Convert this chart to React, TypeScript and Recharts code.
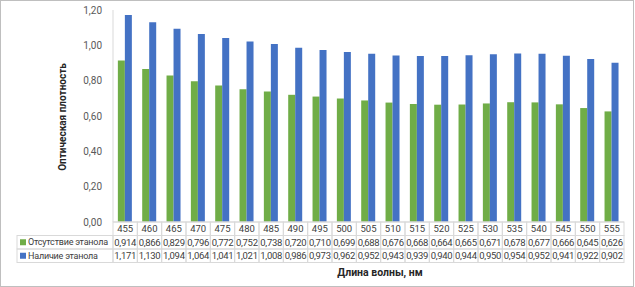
import React from 'react';
import { BarChart, Bar, XAxis, YAxis } from 'recharts';

// wavelengths, nm
const wavelengths = [
    '455', '460', '465', '470', '475', '480', '485', '490', '495', '500', '505',
    '510', '515', '520', '525', '530', '535', '540', '545', '550', '555',
];
const withoutEthanol = [
    0.914, 0.866, 0.829, 0.796, 0.772, 0.752, 0.738, 0.72, 0.71, 0.699, 0.688,
    0.676, 0.668, 0.664, 0.665, 0.671, 0.678, 0.677, 0.666, 0.645, 0.626,
];
const withEthanol = [
    1.171, 1.13, 1.094, 1.064, 1.041, 1.021, 1.008, 0.986, 0.973, 0.962, 0.952,
    0.943, 0.939, 0.94, 0.944, 0.95, 0.954, 0.952, 0.941, 0.922, 0.902,
];
const yTicks = [0, 0.2, 0.4, 0.6, 0.8, 1.0, 1.2];

const seriesNames = ['Отсутствие этанола', 'Наличие этанола'];
const GREEN = '#70AD47';
const BLUE = '#4472C4';

const data = wavelengths.map((wl, i) => ({
    wl,
    a: withoutEthanol[i],
    b: withEthanol[i],
}));

const W = 634;
const H = 287;
const LEFT = 113;
const RIGHT = 10;
const BAND = (W - LEFT - RIGHT) / wavelengths.length;
const ROW = 13.5;
const GRID = '#d9d9d9';
const TEXT = '#404040';
const FONT = 'Roboto, "Liberation Sans", sans-serif';

const fmt = (v: number, d: number) => v.toFixed(d).replace('.', ',');

// x axis tick = one column of the data table
const TableTick = (props: any) => {
    const { x, y, payload, index } = props;
    const i = wavelengths.indexOf(payload.value);
    const left = x - BAND / 2;
    const rows = [payload.value, fmt(withoutEthanol[i], 3), fmt(withEthanol[i], 3)];
    return (
        <g>
            {rows.map((r, k) => (
                <g key={k}>
                    <rect x={left} y={y + k * ROW} width={BAND} height={ROW} fill="none" stroke={GRID} strokeWidth={1} />
                    <text
                        x={x}
                        y={y + k * ROW + ROW / 2}
                        dy="0.35em"
                        textAnchor="middle"
                        fontSize={9.5}
                        letterSpacing={k === 0 ? 0 : -0.3}
                        fill={TEXT}
                        fontFamily={FONT}
                    >
                        {r}
                    </text>
                </g>
            ))}
            {index === 0 &&
                seriesNames.map((name, k) => (
                    <g key={name}>
                        <rect x={17} y={y + (k + 1) * ROW} width={left - 17} height={ROW} fill="none" stroke={GRID} strokeWidth={1} />
                        <rect x={20} y={y + (k + 1) * ROW + ROW / 2 - 3} width={6} height={6} fill={k === 0 ? GREEN : BLUE} />
                        <text
                            x={28}
                            y={y + (k + 1) * ROW + ROW / 2}
                            dy="0.35em"
                            fontSize={9}
                            letterSpacing={-0.2}
                            fill={TEXT}
                            fontFamily={FONT}
                        >
                            {name}
                        </text>
                    </g>
                ))}
        </g>
    );
};

export default function App() {
    return (
        <div style={{ position: 'relative', width: W, height: H, background: '#fff' }}>
            <style>{'body{margin:0}'}</style>
            <BarChart
                width={W}
                height={H}
                data={data}
                margin={{ top: 10, right: RIGHT, left: 0, bottom: 0 }}
                barCategoryGap="20%"
                barGap={0}
            >
                <XAxis
                    dataKey="wl"
                    interval={0}
                    height={65}
                    tickLine={false}
                    tickSize={0}
                    tickMargin={0}
                    axisLine={{ stroke: GRID }}
                    tick={<TableTick />}
                    label={{
                        content: () => (
                            <text x={380} y={272} dy="0.35em" textAnchor="middle" fontSize={10.5} fontWeight="bold" fill="#262626" fontFamily={FONT}>
                                Длина волны, нм
                            </text>
                        ),
                    }}
                />
                <YAxis
                    width={LEFT}
                    domain={[0, 1.2]}
                    ticks={yTicks}
                    tickFormatter={(v: number) => fmt(v, 2)}
                    tickLine={false}
                    tickMargin={5}
                    axisLine={{ stroke: GRID }}
                    tick={{ fontSize: 10, fill: '#595959', fontFamily: FONT }}
                    label={{
                        content: () => (
                            <text x={62} y={117} dy="0.35em" textAnchor="middle" transform="rotate(-90 62 117)" fontSize={10} fontWeight="bold" fill="#262626" fontFamily={FONT}>
                                Оптическая плотность
                            </text>
                        ),
                    }}
                />
                <Bar dataKey="a" name={seriesNames[0]} fill={GREEN} isAnimationActive={false} />
                <Bar dataKey="b" name={seriesNames[1]} fill={BLUE} isAnimationActive={false} />
            </BarChart>
            <div
                style={{
                    position: 'absolute',
                    inset: 0,
                    border: '1px solid #bfbfbf',
                    pointerEvents: 'none',
                }}
            />
        </div>
    );
}
